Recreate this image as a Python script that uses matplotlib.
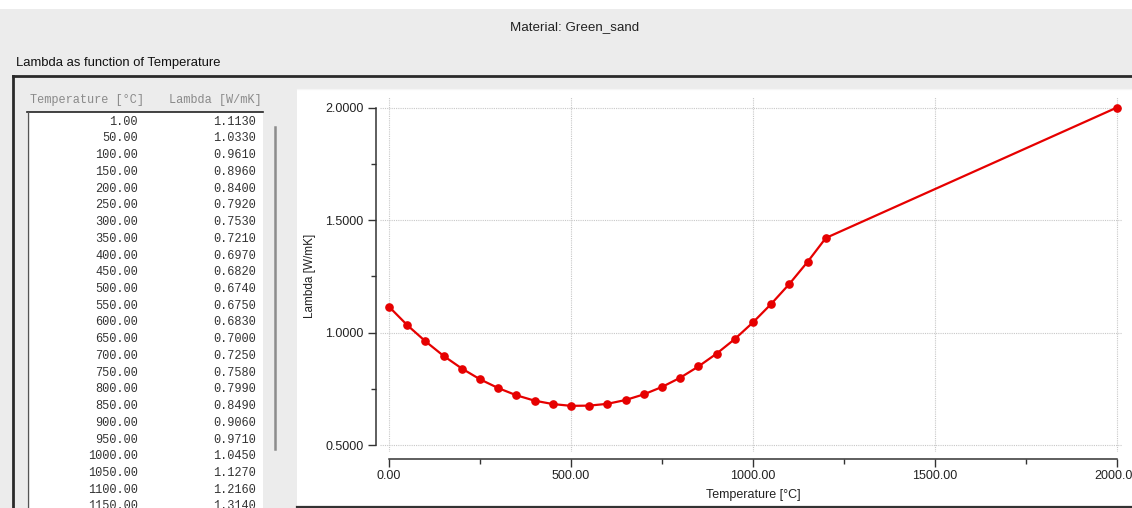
import matplotlib
matplotlib.use("Agg")
import matplotlib.pyplot as plt
from matplotlib.patches import Rectangle
from matplotlib.lines import Line2D
from matplotlib.ticker import MultipleLocator, FormatStrFormatter

# Thermal conductivity of green sand versus temperature
material = "Green_sand"
temperature = [1, 50, 100, 150, 200, 250, 300, 350, 400, 450, 500, 550, 600,
               650, 700, 750, 800, 850, 900, 950, 1000, 1050, 1100, 1150,
               1200, 2000]
conductivity = [1.113, 1.033, 0.961, 0.896, 0.840, 0.792, 0.753, 0.721,
                0.697, 0.682, 0.674, 0.675, 0.683, 0.700, 0.725, 0.758,
                0.799, 0.849, 0.906, 0.971, 1.045, 1.127, 1.216, 1.314,
                1.420, 2.000]
x_major = [0, 500, 1000, 1500, 2000]
y_major = [0.5, 1.0, 1.5, 2.0]

W, H = 1132, 508
DPI = 100
fig = plt.figure(figsize=(W / DPI, H / DPI), dpi=DPI)
fig.patch.set_facecolor("#ececec")

UI_FONT = "Liberation Sans"
MONO_FONT = "Liberation Mono"


def fx(x):
    return x / W


def fy(y):
    return 1 - y / H


def rect(x0, y0, x1, y1, **kw):
    fig.patches.append(Rectangle((fx(x0), fy(y1)), fx(x1) - fx(x0),
                                 fy(y0) - fy(y1), transform=fig.transFigure,
                                 zorder=-10, **kw))


def hline(x0, x1, y, **kw):
    fig.lines.append(Line2D([fx(x0), fx(x1)], [fy(y), fy(y)],
                            transform=fig.transFigure, zorder=-5, **kw))


def vline(x, y0, y1, **kw):
    fig.lines.append(Line2D([fx(x), fx(x)], [fy(y0), fy(y1)],
                            transform=fig.transFigure, zorder=-5, **kw))


# window chrome
rect(0, 0, W, 9, facecolor="white", edgecolor="none")
fig.text(fx(575), fy(27), f"Material: {material}", ha="center", va="center",
         fontsize=9.6, family=UI_FONT, color="#222222")
fig.text(fx(16), fy(63), "Lambda as function of Temperature", ha="left",
         va="center", fontsize=9.4, family=UI_FONT, color="#111111")
hline(13, W, 76, color="#2a2a2a", lw=2.0)
vline(13, 76, H, color="#2a2a2a", lw=2.0)

# value table
rect(27, 112, 263, H, facecolor="white", edgecolor="none")
hline(27, 263, 112, color="#222222", lw=1.2)
vline(27.5, 112, H, color="#555555", lw=1.0)
fig.text(fx(30), fy(100), "Temperature [°C]", ha="left", va="center",
         fontsize=8.6, family=MONO_FONT, color="#8a8a8a")
fig.text(fx(262), fy(100), "Lambda [W/mK]", ha="right", va="center",
         fontsize=8.6, family=MONO_FONT, color="#8a8a8a")
for i, (t, lam) in enumerate(zip(temperature[:24], conductivity[:24])):
    yy = 121.7 + 16.73 * i
    fig.text(fx(138), fy(yy), f"{t:.2f}", ha="right", va="center",
             fontsize=8.6, family=MONO_FONT, color="#333333")
    fig.text(fx(256), fy(yy), f"{lam:.4f}", ha="right", va="center",
             fontsize=8.6, family=MONO_FONT, color="#333333")
vline(274.5, 127, 449, color="#8c8c8c", lw=1.8)

# chart panel
rect(297, 89, W, 506, facecolor="white", edgecolor="none")
hline(297, W, 88.5, color="#f6f6f6", lw=1.0)
hline(297, W, 506.5, color="#333333", lw=1.6)

ax_l, ax_r, ax_t, ax_b = 380, 1122, 97, 452
ax = fig.add_axes([fx(ax_l), fy(ax_b), fx(ax_r) - fx(ax_l), fy(ax_t) - fy(ax_b)])
ax.set_zorder(5)
ax.set_facecolor("white")

px_per_x = (1117 - 389) / 2000
px_per_y = (445 - 107.5) / 1.5
ax.set_xlim(-(389 - ax_l) / px_per_x, 2000 + (ax_r - 1117) / px_per_x)
ax.set_ylim(0.5 - (ax_b - 445) / px_per_y, 2.0 + (107.5 - ax_t) / px_per_y)

ax.plot(temperature, conductivity, color="#e60000", lw=1.6, marker="o",
        ms=5.2, mec="#e60000", mfc="#e60000", zorder=3, clip_on=False)

for s in ("top", "right"):
    ax.spines[s].set_visible(False)
for s in ("left", "bottom"):
    ax.spines[s].set_color("#333333")
    ax.spines[s].set_linewidth(1.1)
ax.spines["left"].set_position(("outward", (ax_l - 376) * 72 / DPI))
ax.spines["bottom"].set_position(("outward", (459 - ax_b) * 72 / DPI))
ax.spines["left"].set_bounds(0.5, 2.0)
ax.spines["bottom"].set_bounds(0, 2000)

ax.set_xticks(x_major)
ax.set_yticks(y_major)
ax.xaxis.set_minor_locator(MultipleLocator(250))
ax.yaxis.set_minor_locator(MultipleLocator(0.25))
ax.xaxis.set_major_formatter(FormatStrFormatter("%.2f"))
ax.yaxis.set_major_formatter(FormatStrFormatter("%.4f"))
ax.tick_params(axis="both", which="major", length=5.5, width=1.0,
               color="#333333", labelsize=9, labelcolor="#222222")
ax.tick_params(axis="both", which="minor", length=3.5, width=1.0,
               color="#333333")
ax.tick_params(axis="x", which="major", pad=2.5)
ax.tick_params(axis="y", which="major", pad=3.5)
for lab in ax.get_xticklabels() + ax.get_yticklabels():
    lab.set_family(UI_FONT)

ax.grid(True, which="major", color="#c8c8c8", lw=0.8, ls=(0, (1, 1)))
ax.set_axisbelow(True)

ax.set_xlabel("Temperature [°C]", fontsize=9, family=UI_FONT, color="#222222")
ax.set_ylabel("Lambda [W/mK]", fontsize=8.5, family=UI_FONT, color="#222222")
ax.xaxis.set_label_coords((753 - ax_l) / (ax_r - ax_l), -(489 - ax_b) / (ax_b - ax_t))
ax.yaxis.set_label_coords(-(ax_l - 316) / (ax_r - ax_l), (ax_b - 276) / (ax_b - ax_t))

fig.savefig("out.png", dpi=DPI, facecolor=fig.get_facecolor())
